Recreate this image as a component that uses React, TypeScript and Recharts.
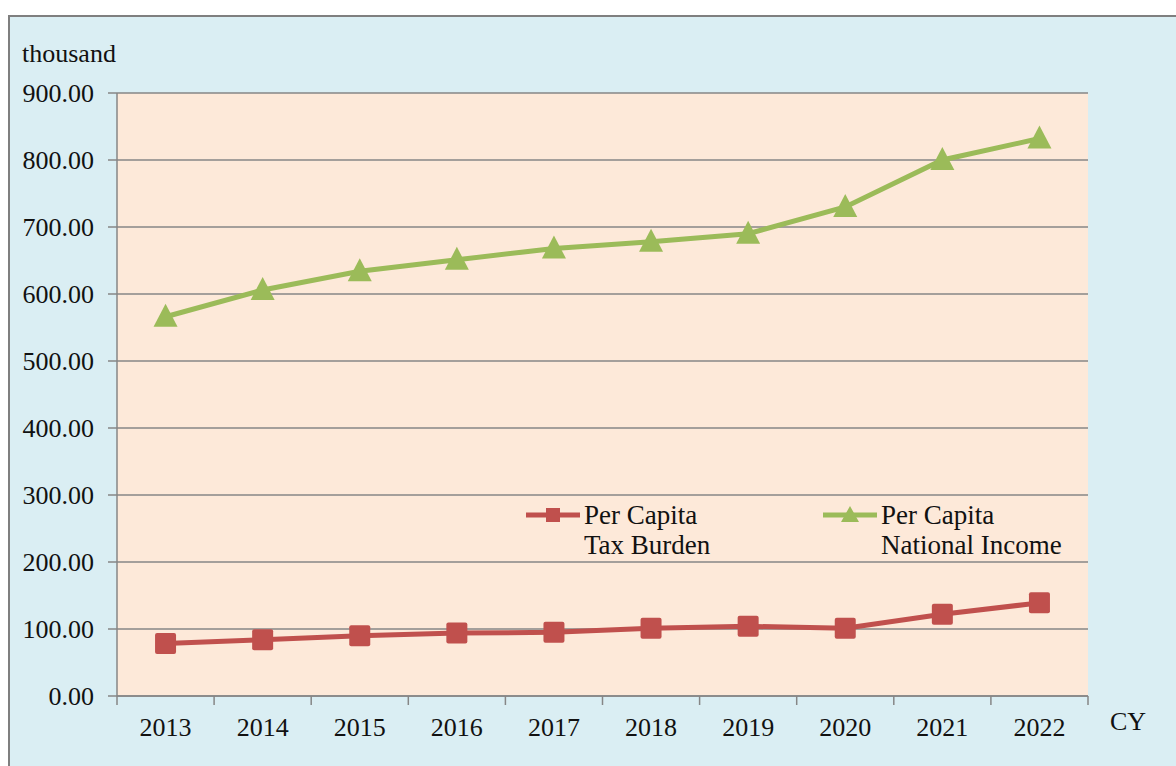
import React from 'react';
import { LineChart, Line, XAxis, YAxis, CartesianGrid } from 'recharts';

const years = ['2013', '2014', '2015', '2016', '2017', '2018', '2019', '2020', '2021', '2022'];
const taxBurden = [78.5, 84, 90, 94, 95, 101, 104, 101, 122, 139];
const nationalIncome = [566, 606, 634, 651, 668, 678, 690, 730, 800, 832];
const yTicks = [0, 100, 200, 300, 400, 500, 600, 700, 800, 900];

const RED = '#c0504d';
const GREEN = '#9bbb59';
const GRID = '#868686';
const FONT = '"Liberation Serif", "Times New Roman", serif';

const data = years.map((year, i) => ({ idx: i, year, tax: taxBurden[i], income: nationalIncome[i] }));
const yearTicks = years.map((_, i) => i);
const boundaryTicks = [...years.map((_, i) => i - 0.5), years.length - 0.5];

const SquareDot = (props: any) => {
  const { cx, cy, index } = props;
  if (cx == null || cy == null) return <g key={`sq-${index}`} />;
  return <rect key={`sq-${index}`} x={cx - 10.5} y={cy - 10.5} width={21} height={21} rx={2} fill={RED} />;
};

const TriangleDot = (props: any) => {
  const { cx, cy, index } = props;
  if (cx == null || cy == null) return <g key={`tri-${index}`} />;
  return <path key={`tri-${index}`} d={`M${cx},${cy - 13} L${cx + 12},${cy + 10} L${cx - 12},${cy + 10} Z`} fill={GREEN} />;
};

const NoLabel = (props: any) => <g />;

const LegendItem: React.FC<{ color: string; shape: 'square' | 'triangle'; lines: string[]; left: number }> = ({ color, shape, lines, left }) => (
  <div style={{ position: 'absolute', left, top: 485, display: 'flex', alignItems: 'flex-start' }}>
    <svg width={59} height={30} style={{ flex: 'none' }}>
      <line x1={1} y1={15} x2={55} y2={15} stroke={color} strokeWidth={5} />
      {shape === 'square' ? (
        <rect x={21} y={8} width={14} height={14} fill={color} />
      ) : (
        <path d="M28,6 L37,22 L19,22 Z" fill={color} />
      )}
    </svg>
    <div style={{ fontFamily: FONT, fontSize: 27, lineHeight: '30px', color: '#111' }}>
      {lines.map((l) => (
        <div key={l}>{l}</div>
      ))}
    </div>
  </div>
);

export default function App() {
  return (
    <div
      style={{
        position: 'absolute',
        left: 8,
        top: 15,
        width: 1168,
        height: 751,
        background: '#daeef3',
        boxShadow: 'inset 2px 2px 0 #7f7f7f',
        overflow: 'hidden',
      }}
    >
      <div style={{ position: 'absolute', left: 14, top: 26, fontFamily: FONT, fontSize: 26, lineHeight: '26px', color: '#111' }}>
        thousand
      </div>
      <div style={{ position: 'absolute', left: 1102, top: 694, fontFamily: FONT, fontSize: 26, lineHeight: '26px', color: '#111' }}>
        CY
      </div>
      <LineChart width={1168} height={751} data={data} margin={{ top: 78, right: 88, bottom: 19, left: 0 }}>
        <CartesianGrid xAxisId="labels" vertical={false} stroke={GRID} strokeWidth={1.5} fill="#fde9d9" fillOpacity={1} />
        <XAxis
          xAxisId="grid"
          type="number"
          dataKey="idx"
          domain={[-0.5, years.length - 0.5]}
          ticks={boundaryTicks}
          tick={NoLabel}
          tickSize={9}
          height={1}
          interval={0}
          axisLine={{ stroke: GRID, strokeWidth: 1.5 }}
          tickLine={{ stroke: GRID, strokeWidth: 1.5 }}
          allowDataOverflow
        />
        <XAxis
          xAxisId="labels"
          type="number"
          dataKey="idx"
          domain={[-0.5, years.length - 0.5]}
          ticks={yearTicks}
          tickFormatter={(v: number) => years[v]}
          axisLine={false}
          tickLine={false}
          tickSize={0}
          tickMargin={21}
          height={50}
          interval={0}
          tick={{ fontFamily: FONT, fontSize: 26, fill: '#111' }}
          allowDataOverflow
        />
        <YAxis
          type="number"
          domain={[0, 900]}
          ticks={yTicks}
          width={109}
          interval={0}
          tickFormatter={(v: number) => v.toFixed(2)}
          tickSize={9}
          tickMargin={14}
          axisLine={{ stroke: GRID, strokeWidth: 1.5 }}
          tickLine={{ stroke: GRID, strokeWidth: 1.5 }}
          tick={{ fontFamily: FONT, fontSize: 26, fill: '#111' }}
        />
        <Line
          xAxisId="labels"
          type="linear"
          dataKey="tax"
          stroke={RED}
          strokeWidth={5}
          dot={SquareDot}
          activeDot={false}
          isAnimationActive={false}
        />
        <Line
          xAxisId="labels"
          type="linear"
          dataKey="income"
          stroke={GREEN}
          strokeWidth={5}
          dot={TriangleDot}
          activeDot={false}
          isAnimationActive={false}
        />
      </LineChart>
      <LegendItem color={RED} shape="square" lines={['Per Capita', 'Tax Burden']} left={517} />
      <LegendItem color={GREEN} shape="triangle" lines={['Per Capita', 'National Income']} left={814} />
    </div>
  );
}
